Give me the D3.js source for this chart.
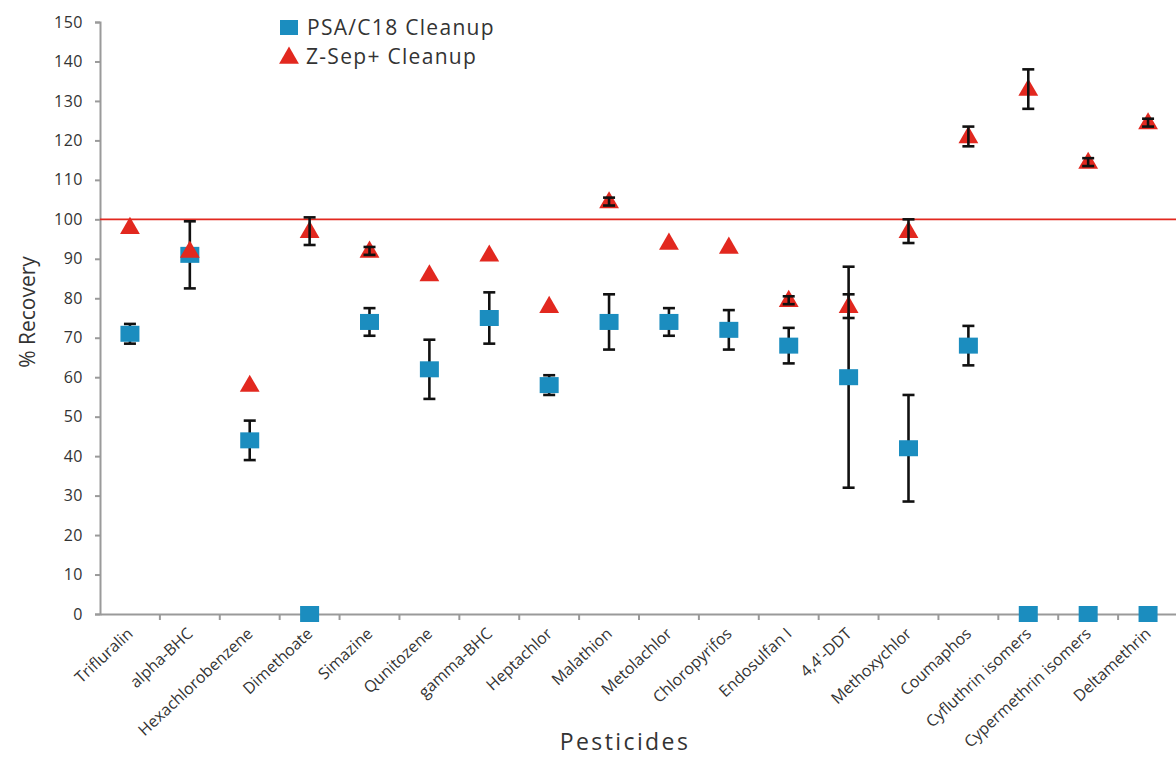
<!DOCTYPE html>
<html><head><meta charset="utf-8">
<script src="https://cdn.jsdelivr.net/npm/d3@7"></script>
<style>body{margin:0;background:#fff;} text{font-family:"Open Sans",sans-serif;}</style>
</head><body><svg id="c" width="1176" height="760"></svg>
<script>
const categories = ["Trifluralin","alpha-BHC","Hexachlorobenzene","Dimethoate","Simazine","Qunitozene","gamma-BHC","Heptachlor","Malathion","Metolachlor","Chloropyrifos","Endosulfan I","4,4'-DDT","Methoxychlor","Coumaphos","Cyfluthrin isomers","Cypermethrin isomers","Deltamethrin"];
const psaValues = [71,91,44,0,74,62,75,58,74,74,72,68,60,42,68,0,0,0];
const psaErrors = [2.5,8.5,5,0,3.5,7.5,6.5,2.5,7,3.5,5,4.5,28,13.5,5,0,0,0];
const zsepValues = [98,92,58,97,92,86,91,78,104.5,94,93,79.5,78,97,121,133,114.5,124.5];
const zsepErrors = [0,0,0,3.5,1,0,0,0,1,0,0,1,3,3,2.5,5,1,1];
const yTicks = [0,10,20,30,40,50,60,70,80,90,100,110,120,130,140,150];
const seriesNames = ["PSA/C18 Cleanup","Z-Sep+ Cleanup"];
const refLine = 100;

const blue = "#1b8dbf", red = "#e2281f", axisCol = "#9a9a9a", txt = "#333";
const svg = d3.select("#c");
const mLeft = 100, mRight = 1178, mTop = 22, mBottom = 614;
const x = d3.scaleBand().domain(categories).range([mLeft, mRight]).padding(0);
const y = d3.scaleLinear().domain([0,150]).range([mBottom, mTop]);
const cx = d => x(d) + x.bandwidth()/2;

// Y axis
const ya = svg.append("g").attr("transform",`translate(${mLeft},0)`)
  .call(d3.axisLeft(y).tickValues(yTicks).tickSize(5).tickPadding(12));
ya.select(".domain").attr("stroke",axisCol).attr("stroke-width",2);
ya.selectAll(".tick line").attr("stroke",axisCol).attr("stroke-width",2);
ya.selectAll(".tick text").attr("fill",txt).style("font-size","16px").style("font-family","Open Sans").style("letter-spacing","0.5px");

// X axis
const xa = svg.append("g").attr("transform",`translate(0,${mBottom})`)
  .call(d3.axisBottom(x).tickSize(0).tickSizeOuter(0));
xa.select(".domain").attr("stroke",axisCol).attr("stroke-width",2);
xa.selectAll(".tick text").remove();
xa.selectAll(".tick line").remove();
// boundary ticks
svg.append("g").selectAll("line").data(categories)
  .join("line")
  .attr("x1",d=>x(d) + x.bandwidth()).attr("x2",d=>x(d) + x.bandwidth())
  .attr("y1",mBottom).attr("y2",mBottom+6).attr("stroke",axisCol).attr("stroke-width",2);
// category labels
svg.append("g").selectAll("text").data(categories).join("text")
  .attr("transform",d=>`translate(${cx(d)+4},${mBottom+21}) rotate(-43)`)
  .attr("text-anchor","end").attr("fill",txt)
  .style("font-size","16px").text(d=>d);

// reference line
svg.append("line").attr("x1",mLeft).attr("x2",1176).attr("y1",y(refLine)).attr("y2",y(refLine))
  .attr("stroke",red).attr("stroke-width",1.6);

function errBars(vals, errs){
  const g = svg.append("g").attr("stroke","#111").attr("stroke-width",2.6);
  categories.forEach((c,i)=>{
    if(!errs[i]) return;
    const x0 = cx(c), y1 = y(vals[i]+errs[i]), y2 = y(vals[i]-errs[i]);
    g.append("line").attr("x1",x0).attr("x2",x0).attr("y1",y1).attr("y2",y2);
    g.append("line").attr("x1",x0-6).attr("x2",x0+6).attr("y1",y1).attr("y2",y1);
    g.append("line").attr("x1",x0-6).attr("x2",x0+6).attr("y1",y2).attr("y2",y2);
  });
}
errBars(psaValues, psaErrors);
svg.append("g").selectAll("rect").data(categories).join("rect")
  .attr("x",(d)=>cx(d)-9.5).attr("y",(d,i)=>y(psaValues[i])-8)
  .attr("width",19).attr("height",16).attr("fill",blue);
const tri = d3.symbol().type(d3.symbolTriangle).size(170);
svg.append("g").selectAll("path").data(categories).join("path")
  .attr("d",tri).attr("transform",(d,i)=>`translate(${cx(d)},${y(zsepValues[i])+1})`)
  .attr("fill",red);
errBars(zsepValues, zsepErrors);

// legend
const lg = svg.append("g");
lg.append("rect").attr("x",280).attr("y",20).attr("width",18).attr("height",15).attr("fill",blue);
lg.append("text").attr("x",307).attr("y",35).attr("fill",txt).style("font-size","21px").style("letter-spacing","1.3px").text(seriesNames[0]);
lg.append("path").attr("d",d3.symbol().type(d3.symbolTriangle).size(170)).attr("transform","translate(289,58)").attr("fill",red);
lg.append("text").attr("x",306).attr("y",64).attr("fill",txt).style("font-size","21px").style("letter-spacing","1.3px").text(seriesNames[1]);

// axis titles
svg.append("text").attr("x",625).attr("y",750).attr("text-anchor","middle").attr("fill",txt)
  .style("font-size","23px").style("letter-spacing","2.4px").text("Pesticides");
svg.append("text").attr("transform","translate(35,312) rotate(-90)").attr("text-anchor","middle").attr("fill",txt)
  .style("font-size","21px").text("% Recovery");
</script></body></html>
